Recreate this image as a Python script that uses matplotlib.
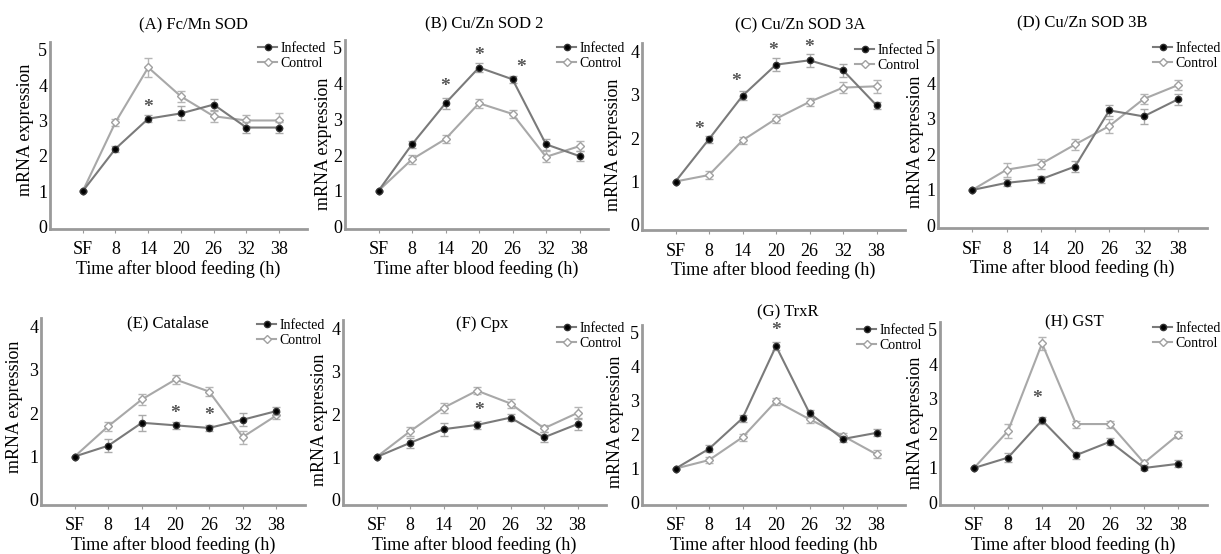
import numpy as np
import matplotlib
matplotlib.use("Agg")
import matplotlib.pyplot as plt
from matplotlib.lines import Line2D

plt.rcParams['font.family'] = ['Liberation Serif', 'DejaVu Serif']

# time points (categorical)
time_labels = ["SF", "8", "14", "20", "26", "32", "38"]

titles = ["(A) Fc/Mn SOD", "(B) Cu/Zn SOD 2", "(C) Cu/Zn SOD 3A", "(D) Cu/Zn SOD 3B",
          "(E) Catalase", "(F) Cpx", "(G) TrxR", "(H) GST"]
xlabels = ["Time after blood feeding (h)"] * 6 + ["Time after hlood feeding (hb",
                                                   "Time after blood feeding (h)"]
ymax = [5, 5, 4, 5, 4, 4, 5, 5]

# mRNA expression, infected mosquitoes
infected = [
    [1.0, 2.2, 3.05, 3.2, 3.45, 2.8, 2.8],
    [1.0, 2.3, 3.45, 4.45, 4.12, 2.3, 1.97],
    [1.0, 1.98, 2.98, 3.7, 3.8, 3.57, 2.76],
    [1.0, 1.2, 1.3, 1.66, 3.24, 3.07, 3.55],
    [1.0, 1.25, 1.78, 1.72, 1.66, 1.85, 2.05],
    [1.0, 1.33, 1.65, 1.75, 1.92, 1.46, 1.77],
    [1.0, 1.58, 2.48, 4.6, 2.63, 1.87, 2.05],
    [1.0, 1.3, 2.38, 1.37, 1.76, 1.0, 1.12],
]
infected_err = [
    [0, 0.08, 0.1, 0.2, 0.15, 0.15, 0.15],
    [0, 0.1, 0.15, 0.12, 0.1, 0.15, 0.15],
    [0, 0.08, 0.1, 0.15, 0.15, 0.15, 0.08],
    [0, 0.1, 0.1, 0.15, 0.15, 0.2, 0.15],
    [0, 0.15, 0.18, 0.08, 0.06, 0.15, 0.1],
    [0, 0.12, 0.15, 0.1, 0.08, 0.12, 0.15],
    [0, 0.1, 0.1, 0.12, 0.1, 0.1, 0.1],
    [0, 0.12, 0.1, 0.1, 0.1, 0.05, 0.1],
]

# mRNA expression, control mosquitoes
control = [
    [1.0, 2.95, 4.5, 3.68, 3.12, 3.0, 3.0],
    [1.0, 1.88, 2.45, 3.45, 3.15, 1.95, 2.25],
    [1.0, 1.15, 1.95, 2.45, 2.84, 3.17, 3.2],
    [1.0, 1.57, 1.73, 2.28, 2.8, 3.56, 3.95],
    [1.0, 1.7, 2.32, 2.78, 2.5, 1.45, 1.95],
    [1.0, 1.6, 2.15, 2.55, 2.25, 1.67, 2.03],
    [1.0, 1.25, 1.92, 2.98, 2.45, 1.96, 1.42],
    [1.0, 2.07, 4.6, 2.27, 2.27, 1.15, 1.96],
]
control_err = [
    [0, 0.1, 0.27, 0.15, 0.15, 0.15, 0.2],
    [0, 0.12, 0.1, 0.12, 0.12, 0.15, 0.15],
    [0, 0.1, 0.08, 0.1, 0.1, 0.12, 0.15],
    [0, 0.2, 0.15, 0.15, 0.2, 0.15, 0.15],
    [0, 0.1, 0.12, 0.1, 0.1, 0.15, 0.08],
    [0, 0.1, 0.12, 0.08, 0.1, 0.08, 0.15],
    [0, 0.08, 0.1, 0.1, 0.1, 0.1, 0.12],
    [0, 0.2, 0.2, 0.1, 0.1, 0.08, 0.1],
]

# significance marks (x as time index, y as expression level)
star_x = [[2], [2, 3, 4.25], [0.7, 1.8, 2.9, 4.0], [], [3, 4], [3.05], [3], [1.85]]
star_y = [[3.38], [3.92, 4.8, 4.45], [2.2, 3.3, 4.02, 4.1], [], [2.0, 1.94], [2.08], [5.05], [3.0]]

# layout in pixels: left, right, top, bottom of each axes
boxes = [(50, 307, 42, 229), (345, 608, 40, 229), (642, 905, 43, 230), (938, 1207, 40, 228),
         (41, 305, 318, 505), (343, 606, 320, 505), (642, 905, 325, 505), (940, 1207, 322, 505)]
title_pos = [(0.56, 1.09), (0.53, 1.08), (0.6, 1.095), (0.535, 1.09),
             (0.48, 0.97), (0.53, 0.98), (0.555, 1.07), (0.505, 1.0)]
legend_pos = [(258, 42), (557, 42), (855, 44), (1153, 42),
              (257, 319), (557, 322), (857, 324), (1153, 322)]
ylabel_y = [0.53, 0.45, 0.455, 0.457, 0.524, 0.46, 0.46, 0.45]
ylabel_off = [-25, -21, -28, -23, -26, -23, -27, -25]  # px from the y axis

W, H = 1221, 554
fig = plt.figure(figsize=(W / 100, H / 100), dpi=100)

grey = '#9a9a9a'
x = np.arange(len(time_labels))

for i in range(8):
    l, r, t, b = boxes[i]
    ax = fig.add_axes([l / W, 1 - b / H, (r - l) / W, (b - t) / H])
    ax.errorbar(x, infected[i], yerr=infected_err[i], color='#7a7a7a', lw=1.5,
                marker='o', ms=4.5, mfc='black', mec='#333333', ecolor='#aaaaaa',
                elinewidth=1, capsize=3, zorder=3)
    ax.errorbar(x, control[i], yerr=control_err[i], color='#a8a8a8', lw=1.5,
                marker='D', ms=4, mfc='white', mec='#a0a0a0', ecolor='#b5b5b5',
                elinewidth=1, capsize=3, zorder=2)
    for sx, sy in zip(star_x[i], star_y[i]):
        ax.text(sx, sy, '*', ha='center', va='center', fontsize=14,
                fontweight='bold', color='#555555')

    ax.set_xlim(-1, 6.85)
    if ymax[i] == 5:
        ax.set_ylim(-0.07, 5.22)
    else:
        ax.set_ylim(-0.12, 4.2)
    ax.set_yticks(range(ymax[i] + 1))
    ax.set_xticks(x)
    ax.set_xticklabels(time_labels)
    ax.tick_params(axis='x', length=3, color=grey, pad=6, labelsize=13)
    ax.tick_params(axis='y', length=0, pad=2, labelsize=13)
    for side in ['top', 'right']:
        ax.spines[side].set_visible(False)
    for side in ['left', 'bottom']:
        ax.spines[side].set_color(grey)
        ax.spines[side].set_linewidth(2)
    ax.set_facecolor('none')

    ax.set_xlabel(xlabels[i], fontsize=13, labelpad=1)
    ax.set_ylabel("mRNA expression", fontsize=13, va='center')
    ax.yaxis.set_label_coords(ylabel_off[i] / (r - l), ylabel_y[i])
    ax.text(title_pos[i][0], title_pos[i][1], titles[i], transform=ax.transAxes,
            ha='center', va='center', fontsize=12)

    handles = [Line2D([], [], color='#7a7a7a', lw=1.5, marker='o', ms=4.5,
                      mfc='black', mec='#333333'),
               Line2D([], [], color='#a8a8a8', lw=1.5, marker='D', ms=4,
                      mfc='white', mec='#a0a0a0')]
    lx, ly = legend_pos[i]
    fig.legend(handles, ["Infected", "Control"], loc='upper left',
               bbox_to_anchor=(lx / W, 1 - ly / H), frameon=False, fontsize=10,
               handlelength=1.4, handletextpad=0.2, borderpad=0, borderaxespad=0,
               labelspacing=0.15)

fig.savefig("out.png", dpi=100)
